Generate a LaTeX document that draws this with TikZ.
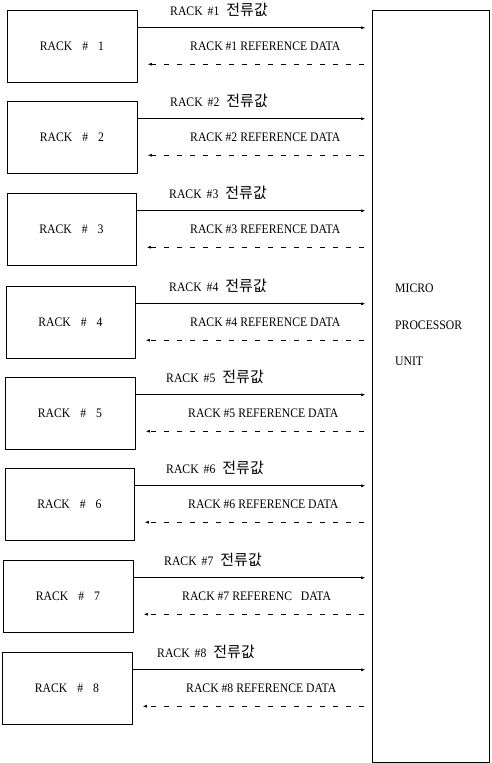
\documentclass[tikz,border=0pt]{standalone}
\usepackage{fontspec}
\setmainfont[FakeStretch=0.9]{Liberation Serif}
\newfontfamily\kr{Noto Sans CJK KR}
\usetikzlibrary{arrows.meta,calc}
\begin{document}
\begin{tikzpicture}[x=1pt,y=-1pt,
  rackbox/.style={draw,line width=0.9pt,minimum height=72pt,inner sep=0pt,font=\fontsize{13}{15}\selectfont},
  lbl/.style={inner sep=0pt,font=\fontsize{13}{15}\selectfont},
  solidarrow/.style={line width=0.8pt,-{Latex[length=4.5pt,width=3pt]}},
  dasharrow/.style={line width=0.8pt,dash pattern=on 5pt off 8pt,-{Latex[length=4.5pt,width=3pt]}},
  mpubox/.style={draw,line width=0.9pt,inner sep=0pt}]
\useasboundingbox (0,0) rectangle (492,763);
\node[mpubox,minimum width=117pt,minimum height=752pt] (mpu) at (430.5,386) {};
\node[lbl,anchor=base west] (m1) at (395,292) {MICRO};
\node[lbl,anchor=base west] (m2) at (395,329) {PROCESSOR};
\node[lbl,anchor=base west] (m3) at (395,365) {UNIT};
\foreach \i/\l/\r/\t/\tl/\rl/\rt in {
  1/7/137/10/170/190/REFERENCE~DATA,
  2/7/137/101/170/190/REFERENCE~DATA,
  3/7/136/193/169/190/REFERENCE~DATA,
  4/6/135/286/169/190/REFERENCE~DATA,
  5/5/135/377/166/188/REFERENCE~DATA,
  6/5/134/468/166/188/REFERENCE~DATA,
  7/3/133/560/164/182/REFERENC~~~DATA,
  8/2/132/652/157/186/REFERENCE~DATA}{
  \node[rackbox,minimum width={\r-\l}] (r\i) at ({(\l+\r)/2},{\t+36}) {RACK\hspace{10pt}\#\hspace{10pt}\i};
  \coordinate (s\i) at ($(r\i.north east)!0.25!(r\i.south east)$);
  \coordinate (d\i) at ($(r\i.north east)!0.75!(r\i.south east)$);
  \draw[solidarrow] (s\i) -- ($(mpu.west |- s\i)+(-6,0)$);
  \draw[dasharrow] ($(mpu.west |- d\i)+(-8,0)$) -- ($(d\i)+(10,0)$);
  \node[lbl,anchor=base west] (k\i) at (\tl,{\t+5}) {RACK\hspace{5pt}\#\i\hspace{7pt}{\kr\fontsize{15}{17}\selectfont 전류값}};
  \node[lbl,anchor=base west] (f\i) at (\rl,{\t+40}) {RACK \#\i\ \rt};
}
\end{tikzpicture}
\end{document}
